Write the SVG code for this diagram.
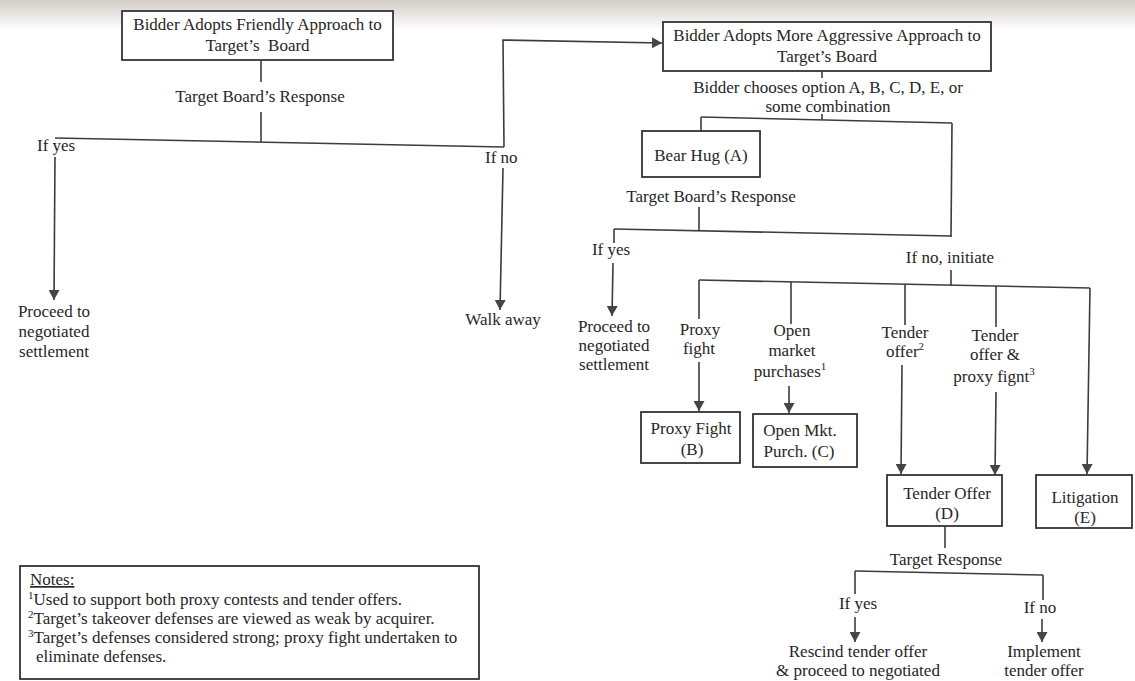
<svg xmlns="http://www.w3.org/2000/svg" width="1135" height="681" viewBox="0 0 1135 681">
<defs>
<linearGradient id="scan" x1="0" y1="0" x2="0" y2="1">
<stop offset="0" stop-color="#d3cdc6"/>
<stop offset="1" stop-color="#ffffff"/>
</linearGradient>
<marker id="arr" markerUnits="userSpaceOnUse" markerWidth="11" markerHeight="11" refX="10" refY="5.5" orient="auto">
<path d="M0,0 L10,5.5 L0,11 z" fill="#454545"/>
</marker>
<style>
text{font-family:"Liberation Serif","Times New Roman",serif;font-size:17px;fill:#262626}
.c{text-anchor:middle}
.box{fill:#ffffff;stroke:#333333;stroke-width:1.8}
.ln{fill:none;stroke:#3c3c3c;stroke-width:1.6}
.ar{fill:none;stroke:#3c3c3c;stroke-width:1.6;marker-end:url(#arr)}
.sup{font-size:11px}
</style>
</defs>
<rect x="0" y="0" width="1135" height="681" fill="#ffffff"/>
<rect x="0" y="0" width="1135" height="30" fill="url(#scan)"/>

<g id="connectors">
<path class="ln" d="M261,61 L261,82"/>
<path class="ln" d="M261,112 L261,142.5"/>
<path class="ln" d="M55,138 L504,147"/>
<path class="ar" d="M504,147 L503,40 L662,43"/>
<path class="ar" d="M55,157 L54,300"/>
<path class="ar" d="M503,168 L500,310"/>
<path class="ln" d="M822,71 L822,78"/>
<path class="ln" d="M822,114 L822,119.5"/>
<path class="ln" d="M701,117 L952,123"/>
<path class="ln" d="M701,117 L701,131"/>
<path class="ln" d="M952,123 L951,237"/>
<path class="ln" d="M699,207 L699,231"/>
<path class="ln" d="M614,229 L951,236"/>
<path class="ln" d="M614,229 L614,243"/>
<path class="ar" d="M613,263 L612,316"/>
<path class="ln" d="M951,270 L951,286"/>
<path class="ln" d="M699,280 L1090,288"/>
<path class="ln" d="M699,280 L699,319"/>
<path class="ln" d="M791,282 L791,324"/>
<path class="ln" d="M905,284 L905,325"/>
<path class="ln" d="M996,286 L996,327"/>
<path class="ar" d="M1090,288 L1087,474"/>
<path class="ar" d="M699,362 L699,411"/>
<path class="ar" d="M789,386 L789,413"/>
<path class="ar" d="M902,365 L901,474"/>
<path class="ar" d="M996,392 L995,475"/>
<path class="ln" d="M945,526 L945,548"/>
<path class="ln" d="M855,571 L1043,575"/>
<path class="ln" d="M855,571 L855,594"/>
<path class="ln" d="M1043,575 L1043,600"/>
<path class="ar" d="M855,617 L855,642"/>
<path class="ar" d="M1042,619 L1042,642"/>
</g>

<g id="labels">
<text class="c" x="260" y="102">Target Board’s Response</text>
<text x="37" y="151">If yes</text>
<text x="485" y="163">If no</text>
<text class="c" x="828" y="93">Bidder chooses option A, B, C, D, E, or</text>
<text class="c" x="828" y="112">some combination</text>
<text class="c" x="711" y="202">Target Board’s Response</text>
<text class="c" x="611" y="255">If yes</text>
<text class="c" x="950" y="263">If no, initiate</text>
<text class="c" x="700" y="335">Proxy</text>
<text class="c" x="699" y="354">fight</text>
<text class="c" x="792" y="336">Open</text>
<text class="c" x="792" y="356">market</text>
<text class="c" x="790" y="377">purchases<tspan class="sup" dy="-7">1</tspan></text>
<text class="c" x="905" y="338">Tender</text>
<text class="c" x="905" y="357">offer<tspan class="sup" dy="-7">2</tspan></text>
<text class="c" x="995" y="341">Tender</text>
<text class="c" x="995" y="360">offer &amp;</text>
<text class="c" x="994" y="382">proxy fignt<tspan class="sup" dy="-7">3</tspan></text>
<text class="c" x="946" y="565">Target Response</text>
<text class="c" x="858" y="609">If yes</text>
<text class="c" x="1040" y="613">If no</text>
</g>

<g id="node-friendly">
<rect class="box" x="122" y="11" width="271" height="49"/>
<text class="c" x="257.5" y="30">Bidder Adopts Friendly Approach to</text>
<text class="c" x="257.5" y="51">Target’s&#160; Board</text>
</g>

<g id="node-aggressive">
<rect class="box" x="663" y="22" width="328" height="49"/>
<text class="c" x="827" y="41">Bidder Adopts More Aggressive Approach to</text>
<text class="c" x="827" y="62">Target’s Board</text>
</g>

<g id="node-settle-1">
<text class="c" x="54" y="317">Proceed to</text>
<text class="c" x="54" y="337">negotiated</text>
<text class="c" x="54" y="357">settlement</text>
</g>

<g id="node-walk-away">
<text class="c" x="503" y="325">Walk away</text>
</g>

<g id="node-bear-hug">
<rect class="box" x="642" y="131" width="118" height="46"/>
<text class="c" x="701" y="161">Bear Hug (A)</text>
</g>

<g id="node-settle-2">
<text class="c" x="614" y="332">Proceed to</text>
<text class="c" x="614" y="351">negotiated</text>
<text class="c" x="614" y="370">settlement</text>
</g>

<g id="node-proxy-fight">
<rect class="box" x="641" y="412" width="99" height="51"/>
<text class="c" x="691" y="434">Proxy Fight</text>
<text class="c" x="692" y="455">(B)</text>
</g>

<g id="node-open-market">
<rect class="box" x="753" y="414" width="104" height="53"/>
<text class="c" x="800" y="436">Open Mkt.</text>
<text class="c" x="799" y="457">Purch. (C)</text>
</g>

<g id="node-tender-offer">
<rect class="box" x="887" y="475" width="115" height="51"/>
<text class="c" x="947" y="499">Tender Offer</text>
<text class="c" x="947" y="519">(D)</text>
</g>

<g id="node-litigation">
<rect class="box" x="1036" y="475" width="96" height="53"/>
<text class="c" x="1085" y="503">Litigation</text>
<text class="c" x="1085" y="523">(E)</text>
</g>

<g id="node-rescind">
<text class="c" x="858" y="657">Rescind tender offer</text>
<text class="c" x="858" y="676">&amp; proceed to negotiated</text>
</g>

<g id="node-implement">
<text class="c" x="1044" y="657">Implement</text>
<text class="c" x="1044" y="676">tender offer</text>
</g>

<g id="node-notes">
<rect class="box" x="20" y="566" width="459" height="113"/>
<text x="30" y="585" text-decoration="underline">Notes:</text>
<text x="28" y="605"><tspan class="sup" dy="-6">1</tspan><tspan dy="6">Used to support both proxy contests and tender offers.</tspan></text>
<text x="28" y="624"><tspan class="sup" dy="-6">2</tspan><tspan dy="6">Target’s takeover defenses are viewed as weak by acquirer.</tspan></text>
<text x="28" y="643"><tspan class="sup" dy="-6">3</tspan><tspan dy="6">Target’s defenses considered strong; proxy fight undertaken to</tspan></text>
<text x="36" y="662">eliminate defenses.</text>
</g>
</svg>
